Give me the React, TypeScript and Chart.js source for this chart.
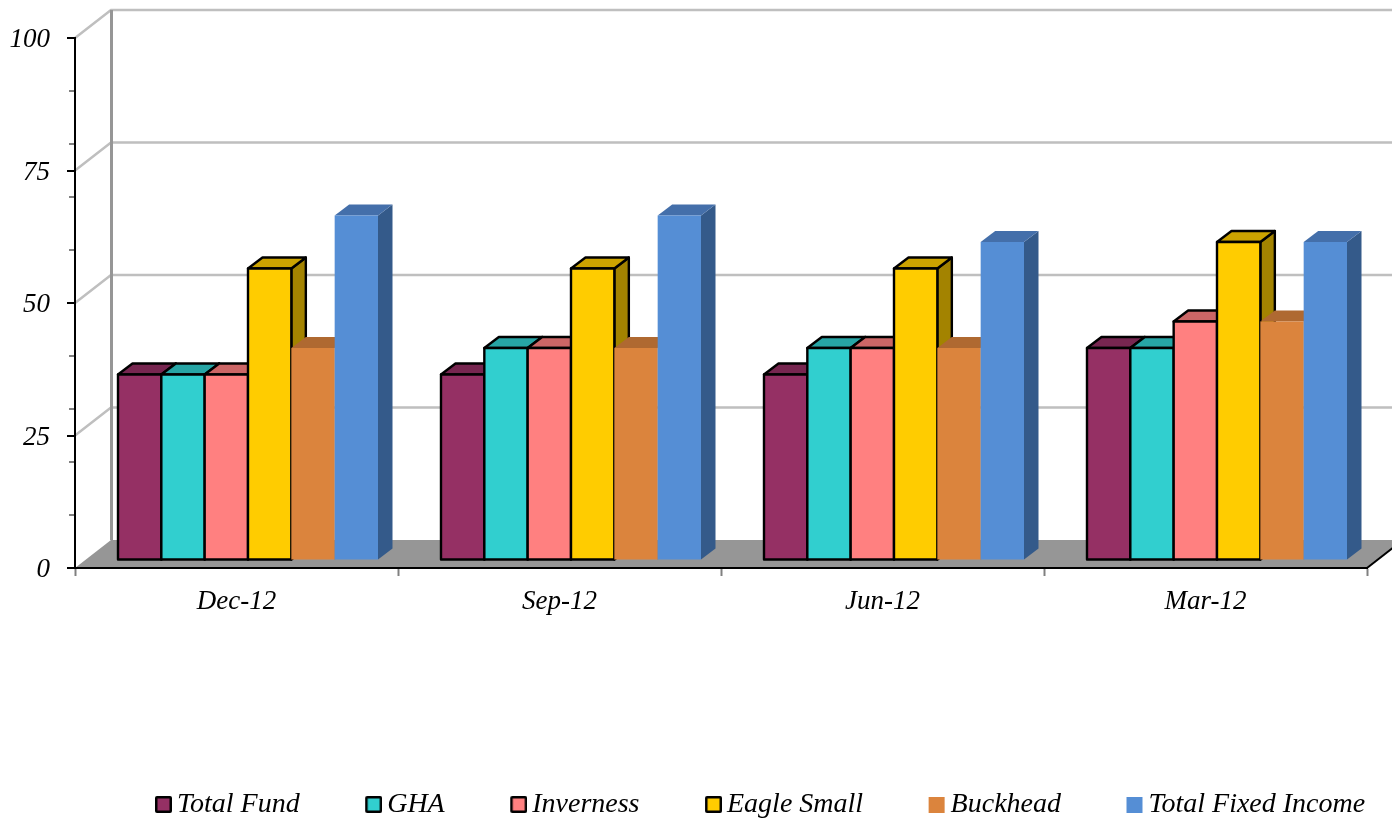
import React, { useEffect, useRef } from "react";
import { Chart, registerables } from "chart.js";

Chart.register(...registerables);

const categories = ["Dec-12", "Sep-12", "Jun-12", "Mar-12"];
const seriesNames = ["Total Fund", "GHA", "Inverness", "Eagle Small", "Buckhead", "Total Fixed Income"];
const totalFund = [35, 35, 35, 40];
const gha = [35, 40, 40, 40];
const inverness = [35, 40, 40, 45];
const eagleSmall = [55, 55, 55, 60];
const buckhead = [40, 40, 40, 45];
const totalFixedIncome = [65, 65, 60, 60];
const seriesValues = [totalFund, gha, inverness, eagleSmall, buckhead, totalFixedIncome];
const frontColors = ["#953064", "#31CFCF", "#FF8080", "#FFCC00", "#DB843D", "#558ED5"];
const topColors = ["#772650", "#27A5A5", "#CC6666", "#CCA300", "#AF6931", "#446FAA"];
const sideColors = ["#5F1E40", "#1F8585", "#A35252", "#A38300", "#8C5427", "#345A8A"];
const outlined = [true, true, true, true, false, false];
const yTickValues = [0, 10, 20, 25, 30, 40, 50, 60, 70, 75, 80, 90, 100];
const gridValues = [25, 50, 75, 100];

const FONT = "'Liberation Serif', serif";
const LEGEND_FONT = 28;
const LEGEND_PAD = 65.5;
const BAR_SHIFT = { x: 11.5, y: -8 };
const BAR_DEPTH = { x: 14.5, y: -11 };
const WALL = { x: 36, y: -28 };
const OUTLINE = 2.4;

function legendSwatch(fill: string, outline: boolean) {
  const c = document.createElement("canvas");
  c.width = 26;
  c.height = 18;
  const g = c.getContext("2d")!;
  if (outline) {
    g.fillStyle = "#000";
    g.beginPath();
    g.roundRect(9, 0, 17, 17, 2);
    g.fill();
    g.fillStyle = fill;
    g.fillRect(11.5, 2.5, 12, 12);
  } else {
    g.fillStyle = fill;
    g.fillRect(9, 1, 16, 16);
  }
  return c;
}

const scene3d = {
  id: "scene3d",
  afterLayout(chart: any) {
    const lg = chart.legend;
    if (!lg) return;
    lg.left = 155 - LEGEND_PAD;
    lg.right = 3000;
    lg.top = 805 - LEGEND_FONT / 2 - LEGEND_PAD;
    lg.bottom = 820;
  },
  beforeDatasetDraw() {
    return false;
  },
  beforeDatasetsDraw(chart: any) {
    const { ctx, scales } = chart;
    const xs = scales.x;
    const ys = scales.y;
    const left = xs.left;
    const right = xs.right;
    const y0 = ys.getPixelForValue(0);
    ctx.save();
    // floor
    ctx.fillStyle = "#969696";
    ctx.beginPath();
    ctx.moveTo(left, y0);
    ctx.lineTo(left + WALL.x, y0 + WALL.y);
    ctx.lineTo(right + WALL.x, y0 + WALL.y);
    ctx.lineTo(right, y0);
    ctx.closePath();
    ctx.fill();
    // grid on side + back wall
    ctx.strokeStyle = "#BFBFBF";
    ctx.lineWidth = 2.5;
    for (const v of gridValues) {
      const y = ys.getPixelForValue(v);
      ctx.beginPath();
      ctx.moveTo(left, y);
      ctx.lineTo(left + WALL.x, y + WALL.y);
      ctx.lineTo(right + WALL.x, y + WALL.y);
      ctx.stroke();
    }
    // back wall corner
    ctx.strokeStyle = "#969696";
    ctx.lineWidth = 3;
    ctx.beginPath();
    ctx.moveTo(left + WALL.x + 0.5, ys.getPixelForValue(100) + WALL.y);
    ctx.lineTo(left + WALL.x + 0.5, y0 + WALL.y);
    ctx.stroke();
    // floor right edge
    ctx.strokeStyle = "#000";
    ctx.lineWidth = 2;
    ctx.beginPath();
    ctx.moveTo(right, y0);
    ctx.lineTo(right + WALL.x, y0 + WALL.y);
    ctx.stroke();
    // value-axis tick marks: labelled values long and black, the rest short and grey
    for (const t of ys.ticks) {
      const major = t.value % 25 === 0;
      const y = Math.round(ys.getPixelForValue(t.value));
      ctx.fillStyle = major ? "#000" : "#808080";
      ctx.fillRect(left - (major ? 8 : 6), y - 1, major ? 8 : 6, 2);
    }
    ctx.restore();
  },
  afterDatasetsDraw(chart: any) {
    const { ctx } = chart;
    seriesValues.forEach((_, i) => {
      const meta = chart.getDatasetMeta(i);
      ctx.save();
      ctx.translate(BAR_SHIFT.x, BAR_SHIFT.y);
      ctx.lineJoin = "round";
      meta.data.forEach((bar: any) => {
        const { x, y, width, base } = bar.getProps(["x", "y", "width", "base"], true);
        const l = x - width / 2;
        const r = x + width / 2;
        const face = (pts: number[][], color: string) => {
          ctx.beginPath();
          pts.forEach(([px, py], n) => (n ? ctx.lineTo(px, py) : ctx.moveTo(px, py)));
          ctx.closePath();
          ctx.fillStyle = color;
          ctx.fill();
          if (outlined[i]) {
            ctx.strokeStyle = "#000";
            ctx.lineWidth = OUTLINE;
            ctx.stroke();
          }
        };
        face(
          [
            [r, y],
            [r + BAR_DEPTH.x, y + BAR_DEPTH.y],
            [r + BAR_DEPTH.x, base + BAR_DEPTH.y],
            [r, base],
          ],
          sideColors[i]
        );
        face(
          [
            [l, y],
            [l + BAR_DEPTH.x, y + BAR_DEPTH.y],
            [r + BAR_DEPTH.x, y + BAR_DEPTH.y],
            [r, y],
          ],
          topColors[i]
        );
        bar.draw(ctx);
        if (outlined[i]) {
          ctx.strokeStyle = "#000";
          ctx.lineWidth = OUTLINE;
          ctx.strokeRect(l, y, width, base - y);
        }
      });
      ctx.restore();
    });
  },
};

export default function App() {
  const ref = useRef<HTMLCanvasElement>(null);
  useEffect(() => {
    document.body.style.margin = "0";
    const chart = new Chart(ref.current!, {
      type: "bar",
      plugins: [scene3d],
      data: {
        labels: categories,
        datasets: seriesNames.map((name, i) => ({
          label: name,
          data: seriesValues[i],
          backgroundColor: frontColors[i],
          borderWidth: 0,
          inflateAmount: 0,
          categoryPercentage: 0.805,
          barPercentage: 1,
          clip: false,
        })) as any,
      },
      options: {
        responsive: false,
        animation: false,
        layout: { padding: { left: 0, right: 25, top: 38, bottom: 0 } },
        plugins: {
          tooltip: { enabled: false },
          legend: {
            position: "bottom",
            align: "start",
            labels: {
              usePointStyle: true,
              boxWidth: 8,
              padding: LEGEND_PAD,
              color: "#000",
              font: { family: FONT, size: LEGEND_FONT, style: "italic" },
              generateLabels(c: any) {
                return seriesNames.map((name, i) => ({
                  text: name,
                  datasetIndex: i,
                  hidden: !c.isDatasetVisible(i),
                  fillStyle: frontColors[i],
                  strokeStyle: "#000",
                  lineWidth: 0,
                  fontColor: "#000",
                  pointStyle: legendSwatch(frontColors[i], outlined[i]),
                }));
              },
            },
          },
        } as any,
        scales: {
          x: {
            offset: true,
            afterFit(s: any) {
              s.height = 820 - 568 - (s.chart.legend ? s.chart.legend.height : 0);
            },
            border: { display: true, color: "#000", width: 2, z: 1 },
            grid: { offset: true, drawOnChartArea: false, drawTicks: true, tickLength: 8, tickColor: "#808080", tickWidth: 2 },
            ticks: {
              color: "#000",
              padding: 10,
              maxRotation: 0,
              font: { family: FONT, size: 27, style: "italic" },
            },
          },
          y: {
            min: 0,
            max: 100,
            afterBuildTicks(s: any) {
              s.ticks = yTickValues.map((value) => ({ value }));
            },
            afterFit(s: any) {
              s.width = 75;
            },
            border: { display: true, color: "#000", width: 2, z: 1 },
            grid: { drawOnChartArea: false, drawTicks: true, tickLength: 17, tickColor: "rgba(0,0,0,0)" },
            ticks: {
              autoSkip: false,
              color: "#000",
              padding: 8,
              labelOffset: 2,
              font: { family: FONT, size: 27, style: "italic" },
              callback: (v: any) => (Number(v) % 25 === 0 ? String(v) : ""),
            },
          },
        },
      } as any,
    });
    return () => chart.destroy();
  }, []);
  return <canvas ref={ref} width={1392} height={820} style={{ display: "block" }} />;
}
